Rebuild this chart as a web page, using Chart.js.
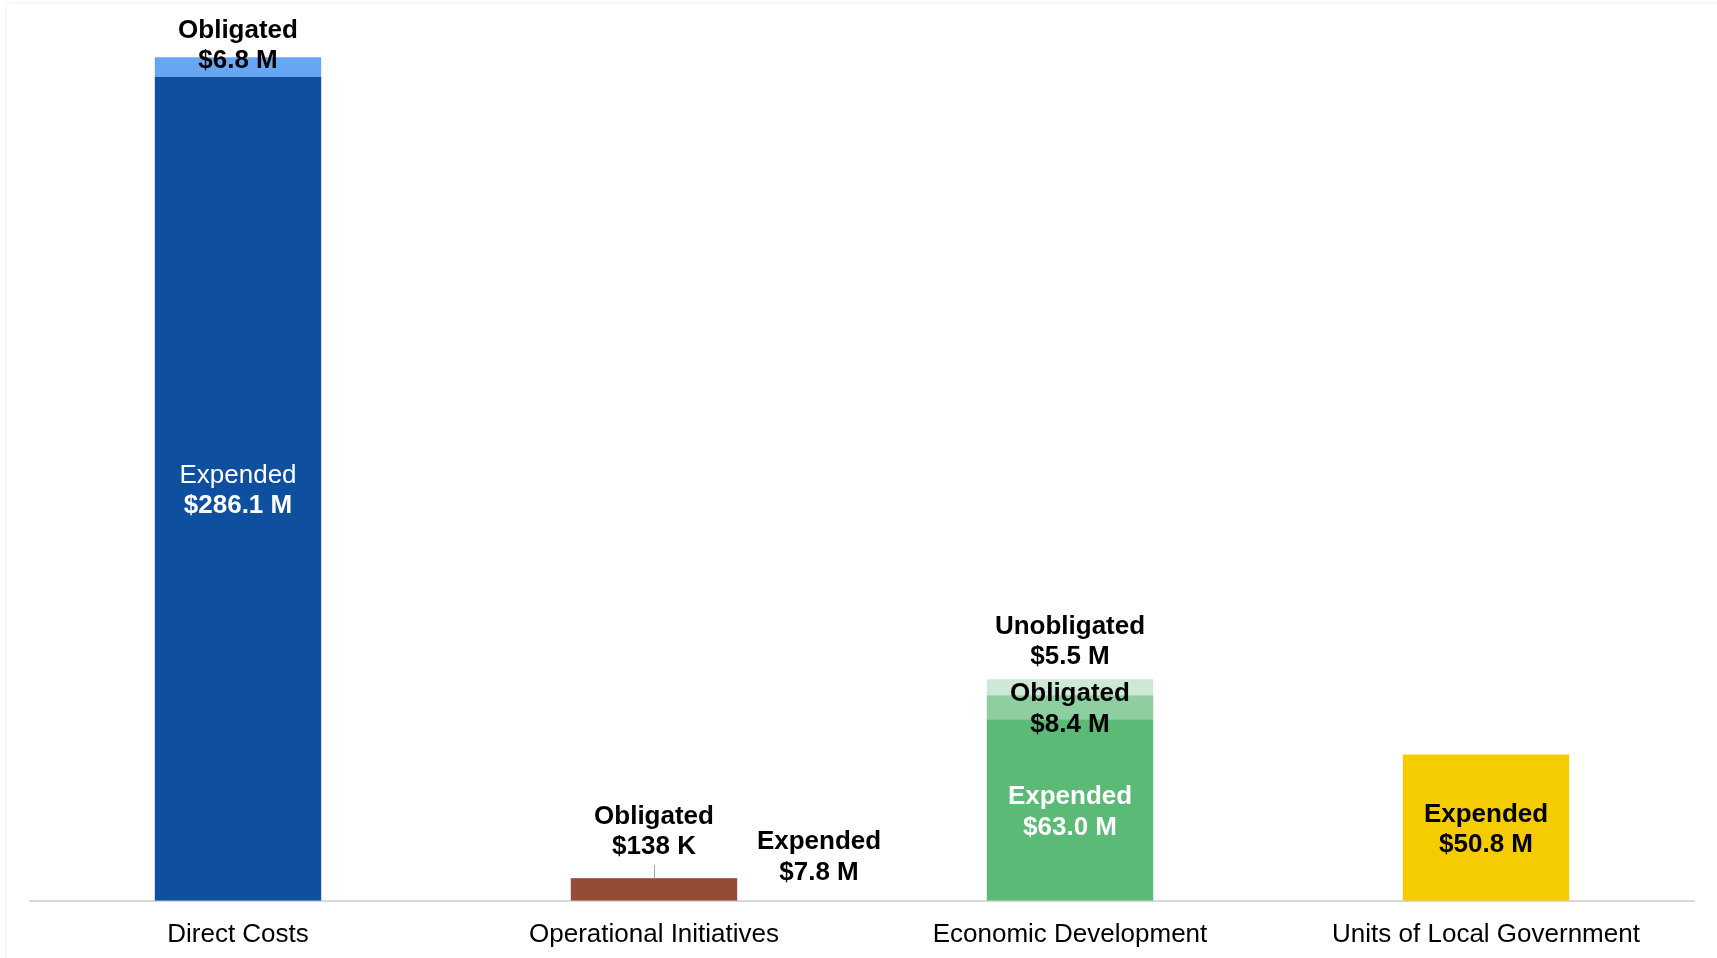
<!DOCTYPE html>
<html>
<head>
<meta charset="utf-8">
<title>Funding by category</title>
<script src="https://cdn.jsdelivr.net/npm/chart.js@4/dist/chart.umd.min.js"></script>
<style>
    html, body { margin: 0; padding: 0; background: #fff; overflow: hidden; }
    .frame {
        position: absolute; left: 7px; top: 4px; right: -10px; bottom: -10px;
        background: #fff; box-shadow: 0 0 4px rgba(0, 0, 0, 0.09);
    }
    #fundChart { position: absolute; left: 0; top: 0; }
</style>
</head>
<body>
<div class="frame"></div>
<canvas id="fundChart" width="1717" height="968"></canvas>
<script>
// values in $ millions
var categories = ['Direct Costs', 'Operational Initiatives', 'Economic Development', 'Units of Local Government'];
var expended = [286.1, 7.8, 63.0, 50.8];
var obligated = [6.8, 0.138, 8.4, null];
var unobligated = [null, null, 5.5, null];

var expendedColors = ['#0F4FA0', '#944C35', '#5BBA75', '#F5CC00'];
var obligatedColors = ['#66A6F2', '#944C35', '#8FCE9F', '#F5CC00'];
var unobligatedColors = ['#66A6F2', '#944C35', '#CDE8D4', '#F5CC00'];

var FONT = "'Liberation Sans', Arial, sans-serif";

function fmt(v) {
    if (v < 1) return '$' + Math.round(v * 1000) + ' K';
    return '$' + v.toFixed(1) + ' M';
}

// where each segment's label goes (dataset, category, placement)
var labelSpots = [
    { ds: 0, i: 0, name: 'Expended', mode: 'center', color: '#fff', firstBold: false },
    { ds: 1, i: 0, name: 'Obligated', mode: 'above', dy: 2, color: '#000' },
    { ds: 0, i: 1, name: 'Expended', mode: 'right', dx: 165, color: '#000' },
    { ds: 1, i: 1, name: 'Obligated', mode: 'above', dy: -33, color: '#000', leader: true },
    { ds: 0, i: 2, name: 'Expended', mode: 'center', color: '#fff' },
    { ds: 1, i: 2, name: 'Obligated', mode: 'center', color: '#000' },
    { ds: 2, i: 2, name: 'Unobligated', mode: 'above', dy: -24, color: '#000' },
    { ds: 0, i: 3, name: 'Expended', mode: 'center', color: '#000' }
];

var segmentLabels = {
    id: 'segmentLabels',
    afterDatasetsDraw: function (chart) {
        var ctx = chart.ctx;
        var gap = 30.5;
        ctx.save();
        ctx.textAlign = 'center';
        ctx.textBaseline = 'middle';
        labelSpots.forEach(function (s) {
            var bar = chart.getDatasetMeta(s.ds).data[s.i];
            var value = chart.data.datasets[s.ds].data[s.i];
            if (!bar || value == null) return;
            var top = Math.min(bar.y, bar.base);
            var bottom = Math.max(bar.y, bar.base);
            var x = bar.x;
            var y2;
            if (s.mode === 'center') {
                y2 = (top + bottom) / 2 + gap / 2;
            } else if (s.mode === 'above') {
                y2 = top + s.dy;
            } else {
                x = bar.x + s.dx;
                y2 = bottom - 30;
            }
            if (s.leader) {
                ctx.strokeStyle = '#a6a6a6';
                ctx.lineWidth = 1;
                ctx.beginPath();
                ctx.moveTo(Math.round(bar.x) + 0.5, top);
                ctx.lineTo(Math.round(bar.x) + 0.5, top - 13);
                ctx.stroke();
            }
            y2 += 2;
            ctx.fillStyle = s.color;
            ctx.font = (s.firstBold === false ? '' : 'bold ') + '26px ' + FONT;
            ctx.fillText(s.name, x, y2 - gap);
            ctx.font = 'bold 26px ' + FONT;
            ctx.fillText(fmt(value), x, y2);
        });
        ctx.restore();
    }
};

document.addEventListener('DOMContentLoaded', function () {
    var ctx = document.getElementById('fundChart').getContext('2d');
    var fundChart = new Chart(ctx, {
        type: 'bar',
        data: {
            labels: categories,
            datasets: [
                { label: 'Expended', data: expended, backgroundColor: expendedColors },
                { label: 'Obligated', data: obligated, backgroundColor: obligatedColors },
                { label: 'Unobligated', data: unobligated, backgroundColor: unobligatedColors }
            ]
        },
        options: {
            responsive: false,
            devicePixelRatio: 1,
            animation: false,
            categoryPercentage: 0.8,
            barPercentage: 0.5,
            layout: { padding: { left: 30, right: 23, top: 8, bottom: 0 } },
            plugins: {
                legend: { display: false },
                tooltip: { enabled: false }
            },
            scales: {
                x: {
                    stacked: true,
                    grid: { display: false, drawTicks: false },
                    border: { color: '#d9d9d9', width: 2 },
                    ticks: {
                        color: '#000',
                        padding: 18,
                        font: { family: FONT, size: 26 }
                    }
                },
                y: {
                    stacked: true,
                    display: false,
                    min: 0,
                    max: 310
                }
            }
        },
        plugins: [segmentLabels]
    });
});
</script>
</body>
</html>
